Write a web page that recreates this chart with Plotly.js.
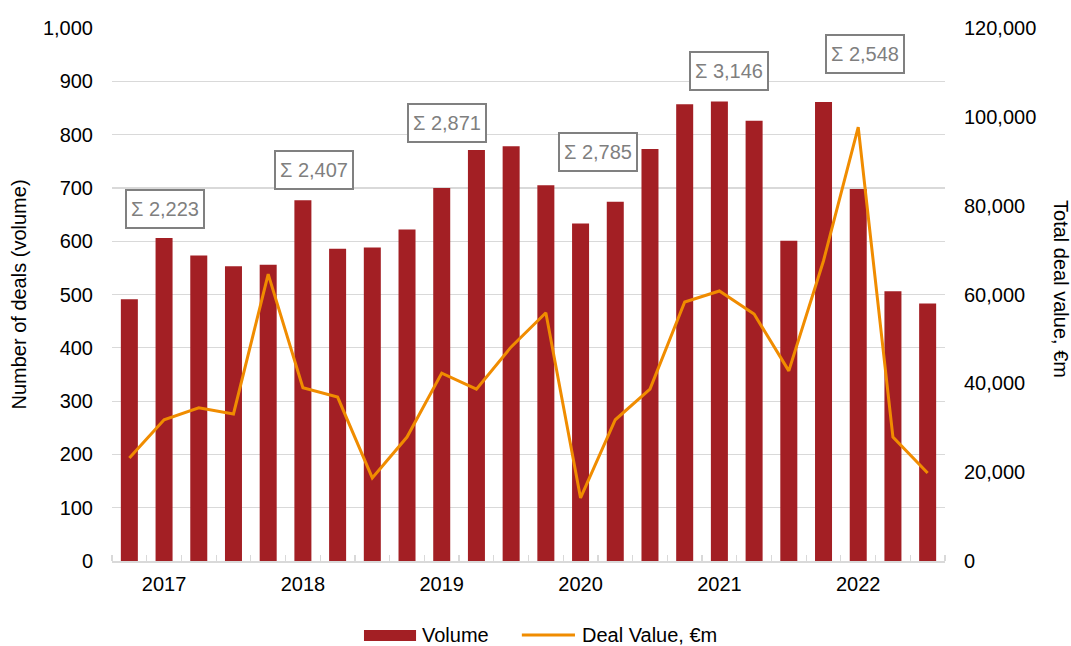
<!DOCTYPE html>
<html><head><meta charset="utf-8">
<script src="https://cdn.plot.ly/plotly-3.0.1.min.js"></script>
<style>html,body{margin:0;padding:0;background:#fff}#chart{width:1071px;height:646px}</style>
</head><body><div id="chart"></div>
<script>
const quarters = ["2017 Q1","2017 Q2","2017 Q3","2017 Q4","2018 Q1","2018 Q2","2018 Q3","2018 Q4",
  "2019 Q1","2019 Q2","2019 Q3","2019 Q4","2020 Q1","2020 Q2","2020 Q3","2020 Q4",
  "2021 Q1","2021 Q2","2021 Q3","2021 Q4","2022 Q1","2022 Q2","2022 Q3","2022 Q4"];
const volume = [491,606,573,553, 556,677,586,588, 622,700,771,778, 705,633,674,773, 857,862,826,601, 861,698,506,483];
const dealValue = [23200,31800,34500,33100, 64600,39000,36900,18700, 27900,42300,38700,48200, 55900,14200,31800,38700, 58300,60800,55600,42800, 67600,97700,27900,19800];
const years = ["2017","2018","2019","2020","2021","2022"];
const yearTotals = ["Σ 2,223","Σ 2,407","Σ 2,871","Σ 2,785","Σ 3,146","Σ 2,548"];

const xIdx = quarters.map((q,i)=>i);
const yearTickIdx = years.map(y => quarters.indexOf(y + " Q2"));

// annotation placement (layout only)
const totalPos = [[1.03,660],[5.32,734],[9.15,821],[13.5,767],[17.27,920],[21.19,952]];

const font = "Liberation Sans, Arial, sans-serif";
const traces = [
  {type:"bar", x:xIdx, y:volume, name:"Volume", marker:{color:"#A31F24"}, width:0.49,
   hovertext:quarters, showlegend:false},
  {type:"scatter", mode:"lines", x:xIdx, y:dealValue, name:"Deal Value, €m", yaxis:"y2",
   line:{color:"#F08C00", width:3}, hovertext:quarters, showlegend:false}
];

const annotations = yearTotals.map((t,i)=>({
  x:totalPos[i][0], y:totalPos[i][1], xref:"x", yref:"y", text:t, showarrow:false,
  font:{family:font, size:20, color:"#7F7F7F"}, bordercolor:"#808080", borderwidth:2,
  borderpad:4, bgcolor:"#fff", height:28
}));
annotations.push({xref:"paper", yref:"paper", x:1.155, y:0.51, text:"Total deal value, €m",
  textangle:90, showarrow:false, font:{family:font, size:20, color:"#000"}});
annotations.push({xref:"paper", yref:"paper", x:0.3697, y:-0.139, xanchor:"left", yanchor:"middle",
  text:"Volume", showarrow:false, font:{family:font, size:20, color:"#000"}});
annotations.push({xref:"paper", yref:"paper", x:0.5618, y:-0.139, xanchor:"left", yanchor:"middle",
  text:"Deal Value, €m", showarrow:false, font:{family:font, size:20, color:"#000"}});

const shapes = [
  {type:"rect", xref:"paper", yref:"paper", x0:0.3025, x1:0.365, y0:-0.150, y1:-0.1295,
   fillcolor:"#A31F24", line:{width:0}},
  {type:"line", xref:"paper", yref:"paper", x0:0.492, x1:0.5558, y0:-0.139, y1:-0.139,
   line:{color:"#F08C00", width:3}}
];

const layout = {
  width:1071, height:646,
  margin:{l:112, r:126, t:28, b:85},
  paper_bgcolor:"#fff", plot_bgcolor:"#fff",
  font:{family:font, size:20, color:"#000"},
  showlegend:false,
  xaxis:{range:[-0.5,23.5], tickmode:"array", tickvals:yearTickIdx, ticktext:years,
    ticks:"", showgrid:false, zeroline:false, showline:true, linecolor:"#D9D9D9", linewidth:1.5,
    tickfont:{size:20}, ticklabelstandoff:4,
    minor:{tickmode:"linear", tick0:-0.5, dtick:1, ticks:"inside", ticklen:6, tickcolor:"#D9D9D9", tickwidth:1.2, showgrid:false}},
  yaxis:{range:[0,1000], dtick:100, tickformat:",", showgrid:true, gridcolor:"#D9D9D9", gridwidth:1.2,
    zeroline:false, showline:false, ticks:"", ticklabelstandoff:18, tickfont:{size:20},
    title:{text:"Number of deals (volume)", font:{size:20}, standoff:10}},
  yaxis2:{range:[0,120000], dtick:20000, tickformat:",", overlaying:"y", side:"right",
    showgrid:false, zeroline:false, showline:false, ticks:"", ticklabelstandoff:18, tickfont:{size:20}},
  annotations:annotations,
  shapes:shapes
};
Plotly.newPlot("chart", traces, layout, {displayModeBar:false, staticPlot:true});
</script></body></html>
